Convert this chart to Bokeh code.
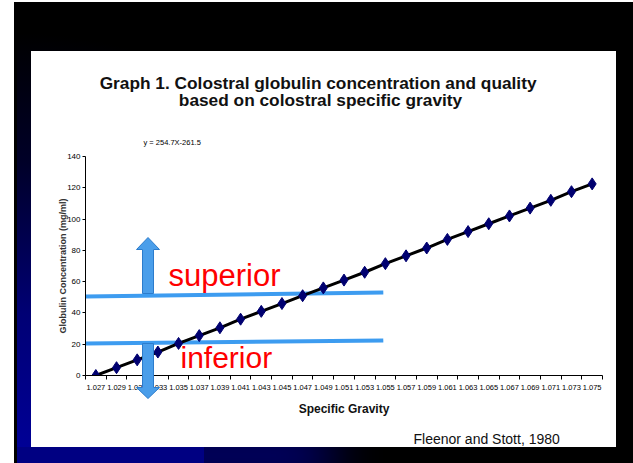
from bokeh.plotting import figure
from bokeh.models import FixedTicker, Range1d
from bokeh.core.properties import value
from bokeh.embed import file_html
from bokeh.resources import INLINE

# ---------------- data ----------------
sg = [1.027, 1.029, 1.031, 1.033, 1.035, 1.037, 1.039, 1.041, 1.043, 1.045,
      1.047, 1.049, 1.051, 1.053, 1.055, 1.057, 1.059, 1.061, 1.063, 1.065,
      1.067, 1.069, 1.071, 1.073, 1.075]
sg_labels = ["1.027", "1.029", "1.031", "1.033", "1.035", "1.037", "1.039", "1.041",
             "1.043", "1.045", "1.047", "1.049", "1.051", "1.053", "1.055", "1.057",
             "1.059", "1.061", "1.063", "1.065", "1.067", "1.069", "1.071", "1.073",
             "1.075"]
globulin = [0, 5, 10, 15, 20.5, 25.5, 30.5, 36, 41, 46, 51, 56, 61, 66, 71.5,
            76.5, 81.5, 87, 92, 97, 102, 107, 112, 117.5, 122.5]
y_ticks = [0, 20, 40, 60, 80, 100, 120, 140]

superior_x = [1.026, 1.0548]
superior_y = [50.5, 53.0]
inferior_x = [1.026, 1.0548]
inferior_y = [20.5, 22.4]

title_lines = ["Graph 1.  Colostral globulin concentration and quality",
               "based on colostral specific gravity"]
equation = "y = 254.7X-261.5"
source = "Fleenor and Stott, 1980"

# ---------------- geometry helpers (pixels -> data) ----------------
X0, X1, Y0, Y1 = 1.026, 1.076, 0, 140
FL, FR, FT, FB = 85, 602, 156, 375
W, H = 617, 447


def sx(px):
    return X0 + (px - FL) * (X1 - X0) / (FR - FL)


def sy(py):
    return Y0 + (FB - py) * (Y1 - Y0) / (FB - FT)


def base(py, fs):
    # text is placed by its vertical middle; convert a baseline pixel row
    return sy(py - 0.33 * fs)


p = figure(width=W, height=H, x_range=Range1d(X0, X1), y_range=Range1d(Y0, Y1),
           output_backend="svg", toolbar_location=None,
           min_border_left=FL, min_border_right=W - FR, min_border_top=FT, min_border_bottom=H - FB)
p.border_fill_color = None
p.background_fill_color = None
p.outline_line_color = None
p.grid.visible = False
p.styles = {
    "background": "linear-gradient(#ffffff,#ffffff) 0 0 / 100% 2px no-repeat, "
                  "linear-gradient(#ffffff,#ffffff) 0 0 / 14px 100% no-repeat, "
                  "linear-gradient(#000000,#000000) 14px 0 / 3px 100% no-repeat, "
                  "linear-gradient(#ffffff,#ffffff) 31px 51px / 585px 396px no-repeat, "
                  "radial-gradient(circle 430px at 14px 463px, #00009a 0%, #000074 35%, #000028 70%, #000000 100%)",
    "box-shadow": "-198px 232px 0 -215px #000082, "
                  "-88px 232px 50px -198px #00007a, "
                  "14px 16px 0 0 #000000, 16px 16px 0 0 #000000, 16px 2px 0 0 #000000",
}

FONT = value("Liberation Sans")

# x axis
edges = [v - 0.001 for v in sg] + [sg[-1] + 0.001]
xa = p.xaxis[0]
xa.ticker = FixedTicker(ticks=sg, minor_ticks=edges)
xa.major_label_overrides = {v: lab for v, lab in zip(sg, sg_labels)}
xa.major_tick_out = 0
xa.major_tick_in = 0
xa.minor_tick_out = 4
xa.minor_tick_in = 0
xa.minor_tick_line_color = "black"
xa.axis_line_color = "black"
xa.major_label_text_font = "Liberation Sans"
xa.major_label_text_font_size = "7.5px"
xa.major_label_text_color = "black"
xa.major_label_standoff = 5
xa.axis_label = "Specific Gravity"
xa.axis_label_text_font = "Liberation Sans"
xa.axis_label_text_font_style = "bold"
xa.axis_label_text_font_size = "12px"
xa.axis_label_text_color = "#111111"
xa.axis_label_standoff = 9

# y axis
ya = p.yaxis[0]
ya.ticker = FixedTicker(ticks=y_ticks, minor_ticks=[])
ya.major_tick_out = 3
ya.major_tick_in = 0
ya.minor_tick_out = 0
ya.minor_tick_in = 0
ya.axis_line_color = "black"
ya.major_label_text_font = "Liberation Sans"
ya.major_label_text_font_size = "8px"
ya.major_label_text_color = "black"
ya.major_label_standoff = 2
ya.axis_label = "Globulin Concentration (mg/ml)"
ya.axis_label_text_font = "Liberation Sans"
ya.axis_label_text_font_style = "bold"
ya.axis_label_text_font_size = "9px"
ya.axis_label_text_color = "#333333"
ya.axis_label_standoff = -4

# threshold lines
p.line(superior_x, superior_y, line_color="#3d9cf0", line_width=4)
p.line(inferior_x, inferior_y, line_color="#3d9cf0", line_width=4)

# data
p.line(sg, globulin, line_color="black", line_width=3)
p.scatter(sg, globulin, marker="diamond", size=12, fill_color="#000070", line_color="#000070")

# arrows (pixel outlines)
up_px = [(142, 293), (142, 249), (136, 249), (147.5, 237), (159, 249), (153, 249), (153, 293)]
down_px = [(142, 343), (142, 387), (136, 387), (147.5, 398), (159, 387), (153, 387), (153, 343)]
for poly in (up_px, down_px):
    p.patch([sx(a) for a, b in poly], [sy(b) for a, b in poly],
            fill_color="#4a9eea", line_color="#2c7ccc", line_width=1, level="overlay")

# texts
p.text(x=[sx(320), sx(320)], y=[base(88, 17.3), base(105, 17.3)], text=title_lines,
       text_font=FONT, text_font_style="bold", text_font_size="17.3px",
       text_color="#111111", text_align="center", text_baseline="alphabetic", level="overlay")
p.text(x=[sx(143)], y=[base(144, 7.5)], text=[equation], text_font=FONT, text_font_size="7.5px",
       text_color="black", text_align="left", text_baseline="alphabetic", level="overlay")
p.text(x=[sx(168)], y=[base(285, 31)], text=["superior"], text_font=FONT, text_font_size="31px",
       text_color="#ff0000", text_align="left", text_baseline="alphabetic", level="overlay")
p.text(x=[sx(180)], y=[base(367, 30)], text=["inferior"], text_font=FONT, text_font_size="30px",
       text_color="#ff0000", text_align="left", text_baseline="alphabetic", level="overlay")
p.text(x=[sx(413)], y=[base(443, 14)], text=[source], text_font=FONT, text_font_size="14px",
       text_color="#111111", text_align="left", text_baseline="alphabetic", level="overlay")

open("out.html", "w").write(file_html(p, INLINE))
